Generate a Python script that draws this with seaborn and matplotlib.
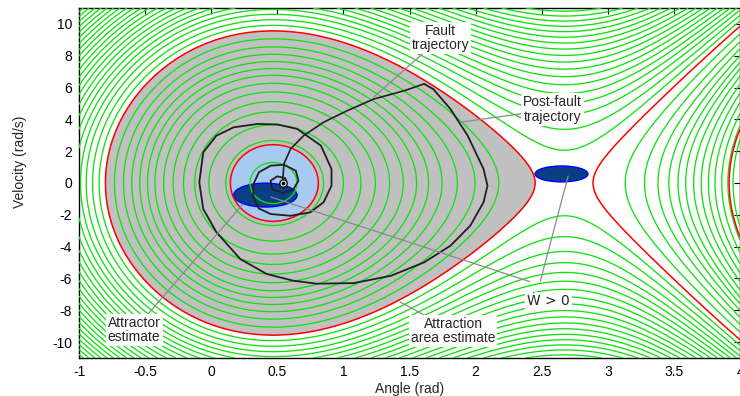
import numpy as np
import pandas as pd
import matplotlib
matplotlib.use("Agg")
import matplotlib.pyplot as plt
from matplotlib.patches import Ellipse
import seaborn as sns

# ---------------- data ----------------
# energy (Lyapunov) function  W = 0.5*M*w^2 - P*theta - cos(theta)
P_MECH = 0.4514          # sin(stable angle)
INERTIA = 0.01681
THETA_STABLE = 0.468
THETA_SADDLE = 2.673
LEVEL_BASIN = -0.3357    # red boundary of attraction-area estimate
LEVEL_ATTRACTOR = -1.055 # red boundary of attractor estimate
# green contour levels, as W - W_min
GREEN_OFFSETS = [0.014, 0.06, 0.112, 0.168, 0.22, 0.275, 0.33, 0.385, 0.435,
                 0.49, 0.55, 0.615, 0.69, 0.825, 0.885, 0.945, 1.0, 1.055,
                 1.11, 1.165, 1.22, 1.275, 1.33, 1.385, 1.44, 1.495, 1.55,
                 1.605, 1.66, 1.715, 1.77, 1.825, 1.88, 1.935, 1.99, 2.045]

fault_theta = [0.54, 0.55, 0.60, 0.70, 0.85, 1.03, 1.23, 1.46, 1.61]
fault_omega = [0.00, 1.20, 2.14, 2.98, 3.82, 4.55, 5.28, 5.80, 6.23]

post_theta = [1.61, 1.68, 1.81, 1.94, 2.06, 2.09, 2.06, 1.96, 1.81, 1.61, 1.36,
              1.08, 0.80, 0.62, 0.42, 0.22, 0.04, -0.06, -0.09, -0.06, 0.04,
              0.17, 0.35, 0.50, 0.65, 0.83, 0.91, 0.91, 0.85, 0.75, 0.60,
              0.45, 0.36, 0.32, 0.32, 0.36, 0.45, 0.55, 0.64, 0.66, 0.62,
              0.54, 0.46, 0.45, 0.50, 0.56, 0.57, 0.54]
post_omega = [6.23, 5.90, 4.65, 2.98, 0.88, -0.17, -1.21, -2.68, -3.94, -4.99,
              -5.83, -6.29, -6.33, -6.14, -5.72, -4.78, -3.10, -1.64, 0.04,
              1.93, 2.98, 3.50, 3.71, 3.68, 3.40, 2.35, 0.88, -0.17, -1.21,
              -1.84, -2.06, -1.95, -1.60, -0.90, -0.06, 0.67, 1.09, 1.15, 0.77,
              0.15, -0.42, -0.63, -0.38, 0.15, 0.42, 0.30, 0.05, -0.05]

attractor_point = (0.54, 0.0)
attractor_ellipse = {"center": (0.41, -0.76), "width": 0.48, "height": 1.5}
wdot_ellipse = {"center": (2.65, 0.57), "width": 0.40, "height": 1.0}

x_ticks = [-1, -0.5, 0, 0.5, 1, 1.5, 2, 2.5, 3, 3.5, 4]
x_tick_labels = ["-1", "-0.5", "0", "0.5", "1", "1.5", "2", "2.5", "3", "3.5", "4"]
y_ticks = [-10, -8, -6, -4, -2, 0, 2, 4, 6, 8, 10]
y_tick_labels = ["-10", "-8", "-6", "-4", "-2", "0", "2", "4", "6", "8", "10"]

# ---------------- style ----------------
sns.set_theme(style="white")
plt.rcParams["font.family"] = ["Liberation Sans", "DejaVu Sans"]
plt.rcParams["axes.unicode_minus"] = False
plt.rcParams["contour.negative_linestyle"] = "solid"

fig = plt.figure(figsize=(7.4, 3.96), dpi=100)
ax = fig.add_axes([79 / 740, 38 / 396, 661 / 740, 350 / 396])

th = np.linspace(-1, 4, 700)
om = np.linspace(-11, 11, 700)
TH, OM = np.meshgrid(th, om)
W = 0.5 * INERTIA * OM ** 2 - P_MECH * TH - np.cos(TH)
W_min = -P_MECH * THETA_STABLE - np.cos(THETA_STABLE)
W_left = np.ma.masked_where(TH > THETA_SADDLE, W)

# fills
ax.contourf(TH, OM, W_left, levels=[W.min() - 1, LEVEL_BASIN], colors=["#c0c0c0"], zorder=1)
ax.contourf(TH, OM, W_left, levels=[W.min() - 1, LEVEL_ATTRACTOR], colors=["#a6caf0"], zorder=2)

for e in (attractor_ellipse, wdot_ellipse):
    ax.add_patch(Ellipse(e["center"], e["width"], e["height"], facecolor="#0a3f84",
                         edgecolor="#0000ff", lw=1.0, zorder=3))

# contours
green_levels = [W_min + o for o in GREEN_OFFSETS]
ax.contour(TH, OM, W, levels=green_levels, colors=["#12e012"], linewidths=0.95,
           linestyles="solid", zorder=4)
ax.contour(TH, OM, W, levels=sorted([LEVEL_ATTRACTOR, LEVEL_BASIN]), colors=["#ff0000"],
           linewidths=1.1, linestyles="solid", zorder=5)

# trajectories
traj = pd.DataFrame({"theta": fault_theta, "omega": fault_omega})
sns.lineplot(data=traj, x="theta", y="omega", sort=False, estimator=None,
             color="#202020", lw=1.2, ax=ax, zorder=6)
traj2 = pd.DataFrame({"theta": post_theta, "omega": post_omega})
sns.lineplot(data=traj2, x="theta", y="omega", sort=False, estimator=None,
             color="#202020", lw=1.3, ax=ax, zorder=6)

ax.scatter([attractor_point[0]], [attractor_point[1]], s=28, facecolor="white",
           edgecolor="black", lw=0.9, zorder=7)
ax.scatter([attractor_point[0]], [attractor_point[1]], s=3, color="black", zorder=8)

# annotations
box = dict(boxstyle="square,pad=0.15", fc="white", ec="none")
arrow = dict(arrowstyle="-", color="#8a8a8a", lw=0.9, shrinkA=0, shrinkB=0)
fs = 10
ax.annotate("Fault\ntrajectory", xy=(1.23, 5.41), xytext=(1.735, 9.12),
            ha="center", va="center", fontsize=fs, bbox=box, arrowprops=arrow,
            linespacing=1.0, zorder=9)
ax.annotate("Post-fault\ntrajectory", xy=(1.90, 3.84), xytext=(2.58, 4.62),
            ha="center", va="center", fontsize=fs, bbox=box, arrowprops=arrow,
            linespacing=1.0, zorder=9)
ax.annotate("Attractor\nestimate", xy=(0.24, -1.32), xytext=(-0.583, -9.25),
            ha="center", va="center", fontsize=fs, bbox=box, arrowprops=arrow,
            linespacing=1.0, zorder=9)
ax.annotate("Attraction\narea estimate", xy=(1.43, -7.48), xytext=(1.83, -9.3),
            ha="center", va="center", fontsize=fs, bbox=box, arrowprops=arrow,
            linespacing=1.0, zorder=9)
ax.annotate("", xy=(0.45, -0.88), xytext=(2.41, -6.2), arrowprops=arrow, zorder=9)
ax.annotate("", xy=(2.70, 0.44), xytext=(2.49, -6.16), arrowprops=arrow, zorder=9)
ax.text(2.55, -7.4, "Ẇ > 0", ha="center", va="center", fontsize=fs,
        family=["DejaVu Sans"], bbox=box, zorder=9)

# axes
ax.set_xlim(-1, 4)
ax.set_ylim(-11, 11)
ax.set_xticks(x_ticks)
ax.set_xticklabels(x_tick_labels)
ax.set_yticks(y_ticks)
ax.set_yticklabels(y_tick_labels)
ax.tick_params(direction="in", length=4, width=0.8, top=True, right=True,
               labelsize=10, colors="black", pad=5)
for s in ax.spines.values():
    s.set_color("black")
    s.set_linewidth(1.0)
ax.set_xlabel("Angle (rad)", fontsize=10, labelpad=2)
ax.set_ylabel("Velocity (rad/s)", fontsize=10)
ax.yaxis.set_label_coords(-0.078, 0.56)
ax.grid(False)

fig.savefig("out.png", dpi=100)
